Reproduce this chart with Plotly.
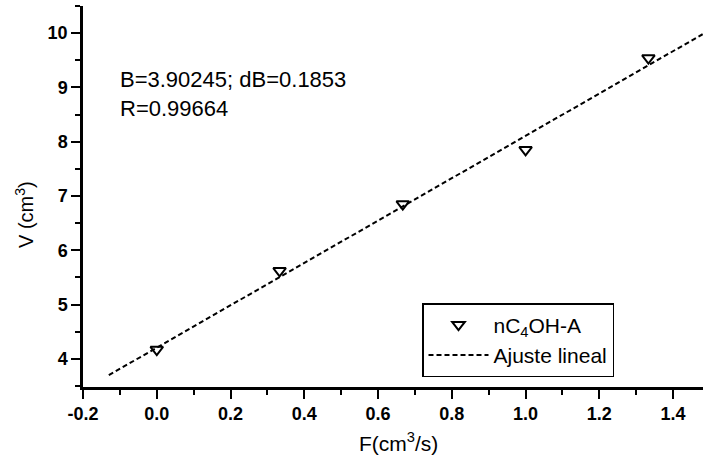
import plotly.graph_objects as go

# ---- data ----
flow = [0.0, 0.333, 0.667, 1.0, 1.333]
volume = [4.17, 5.62, 6.85, 7.85, 9.54]
fit_slope = 3.90245
fit_intercept = 4.205
fit_x = [-0.13, 1.48]
fit_y = [fit_intercept + fit_slope * v for v in fit_x]
x_ticks = [-0.2, 0.0, 0.2, 0.4, 0.6, 0.8, 1.0, 1.2, 1.4]
y_ticks = [4, 5, 6, 7, 8, 9, 10]

W, H = 704, 456
L, R, T, B = 83, 1, 6, 69
pw, ph = W - L - R, H - T - B

def px(x):
    return (x - L) / pw

def py(y):
    return (H - B - y) / ph

FONT = "Liberation Sans"

fig = go.Figure()
fig.add_trace(go.Scatter(
    x=flow, y=volume, mode="markers", name="nC<sub>4</sub>OH-A",
    marker=dict(symbol="triangle-down-open", size=11, color="black",
                line=dict(width=2, color="black")),
))
fig.add_trace(go.Scatter(
    x=fit_x, y=fit_y, mode="lines", name="Ajuste lineal",
    line=dict(color="black", width=2, dash="5px,3px"),
))

xr = [-0.2, 1.481]
yr = [3.48, 10.5]
common_tick = dict(family="Liberation Sans", size=18, color="black", weight=700)

fig.update_layout(
    width=W, height=H,
    margin=dict(l=L, r=R, t=T, b=B),
    paper_bgcolor="white", plot_bgcolor="white",
    font=dict(family=FONT, color="black"),
    xaxis=dict(range=xr, tickvals=x_ticks,
               ticktext=[f"{v:.1f}" for v in x_ticks],
               ticks="outside", ticklen=9, tickwidth=2, tickcolor="black",
               minor=dict(dtick=0.1, tick0=0, ticks="outside", ticklen=5,
                          tickwidth=2, tickcolor="black"),
               showline=True, linewidth=2.5, linecolor="black",
               showgrid=False, zeroline=False, tickfont=common_tick),
    yaxis=dict(range=yr, tickvals=y_ticks,
               ticktext=[f"{v}" for v in y_ticks],
               ticks="outside", ticklen=9, tickwidth=2, tickcolor="black",
               minor=dict(dtick=0.5, tick0=0, ticks="outside", ticklen=5,
                          tickwidth=2, tickcolor="black"),
               showline=True, linewidth=2.5, linecolor="black",
               showgrid=False, zeroline=False, tickfont=common_tick),
    xaxis2=dict(range=xr, overlaying="x", side="top", anchor="y",
                tickvals=x_ticks, showticklabels=False,
                ticks="inside", ticklen=8, tickwidth=2, tickcolor="black",
                minor=dict(dtick=0.1, tick0=0, ticks="inside", ticklen=5,
                           tickwidth=2, tickcolor="black"),
                showline=True, linewidth=2.5, linecolor="black",
                showgrid=False, zeroline=False),
    yaxis2=dict(range=yr, overlaying="y", side="right", anchor="x",
                tickvals=y_ticks, showticklabels=False,
                ticks="inside", ticklen=8, tickwidth=2, tickcolor="black",
                minor=dict(dtick=0.5, tick0=0, ticks="inside", ticklen=5,
                           tickwidth=2, tickcolor="black"),
                showline=True, linewidth=2.5, linecolor="black",
                showgrid=False, zeroline=False),
    legend=dict(x=px(422), y=py(303), xanchor="left", yanchor="top",
                bgcolor="white", bordercolor="black", borderwidth=1.5,
                font=dict(family=FONT, size=21, color="black"),
                itemwidth=60, tracegroupgap=0),
    showlegend=True,
)

fig.add_annotation(
    text="B=3.90245; dB=0.1853<br>R=0.99664",
    xref="paper", yref="paper", x=px(118), y=py(94),
    xanchor="left", yanchor="middle", align="left", showarrow=False,
    font=dict(family=FONT, size=22, color="black"),
)
fig.add_annotation(
    text="F(cm<sup>3</sup>/s)",
    xref="paper", yref="paper", x=px(398), y=py(442),
    xanchor="center", yanchor="middle", showarrow=False,
    font=dict(family=FONT, size=21, color="black"),
)
fig.add_annotation(
    text="V (cm<sup>3</sup>)", textangle=-90,
    xref="paper", yref="paper", x=px(24), y=py(215),
    xanchor="center", yanchor="middle", showarrow=False,
    font=dict(family=FONT, size=20, color="black"),
)

fig.write_html("out.html")
